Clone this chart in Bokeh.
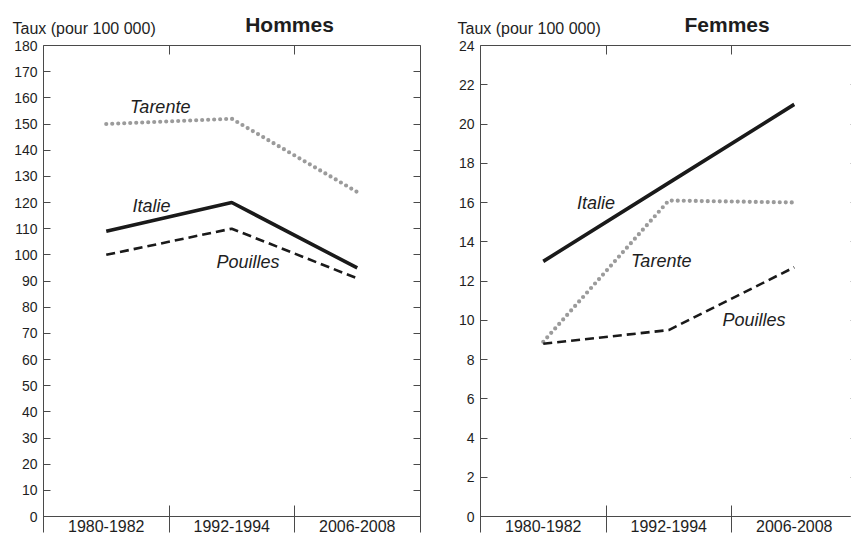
from bokeh.plotting import figure
from bokeh.layouts import row
from bokeh.models import Range1d, FixedTicker, LinearAxis, Label
from bokeh.embed import file_html
from bokeh.resources import INLINE

# ---------------- data ----------------
periods = ["1980-1982", "1992-1994", "2006-2008"]

hommes_tarente = [150, 152, 124]
hommes_italie = [109, 120, 95]
hommes_pouilles = [100, 110, 91]

femmes_italie = [13, 17, 21]
femmes_tarente = [8.9, 16.1, 16.0]
femmes_pouilles = [8.8, 9.5, 12.7]

hommes_yticks = list(range(0, 181, 10))
femmes_yticks = list(range(0, 25, 2))

y_title = "Taux (pour 100 000)"
# label anchors (x in category units, y in value units)
hommes_label_pos = {"Tarente": (0.93, 156.5), "Italie": (0.86, 118.8), "Pouilles": (1.63, 97.1)}
femmes_label_pos = {"Italie": (0.92, 15.95), "Tarente": (1.44, 13.04), "Pouilles": (2.18, 10.0)}

# ---------------- layout / style ----------------
FONT = "Liberation Sans"
AX = "#4a4a4a"
TXT = "#1e1e1e"
H = 535            # figure height (px)
Y_TOP_PX = 45      # canvas y of the top of the value axis
Y_ZERO_PX = 516    # canvas y of value 0
PX_PER_CAT = 125.5
TITLE_PX = 23.5    # canvas y (centre) of the panel titles
TAUX_PX = 28       # canvas y (centre) of the axis title

styles = {
    "Tarente": dict(line_color="#9b9b9b", line_width=4.2, line_dash="0 6", line_cap="round"),
    "Italie": dict(line_color="#1a1a1a", line_width=3.6),
    "Pouilles": dict(line_color="#1a1a1a", line_width=2.6, line_dash="9 5"),
}

n = len(periods)
centers = [i + 0.5 for i in range(n)]
bounds = list(range(n + 1))


def panel(title, ymax, yticks, series, label_pos, width, axis_left_px,
          right_tick_color, title_x, taux_x_px):
    ppu = (Y_ZERO_PX - Y_TOP_PX) / ymax
    y0 = -(H - Y_ZERO_PX) / ppu
    y1 = ymax + Y_TOP_PX / ppu
    x0 = -axis_left_px / PX_PER_CAT
    x1 = (width - axis_left_px) / PX_PER_CAT

    def ydata(px):
        return ymax + (Y_TOP_PX - px) / ppu

    p = figure(width=width, height=H, x_range=Range1d(x0, x1), y_range=Range1d(y0, y1),
               output_backend="svg", toolbar_location=None,
               x_axis_location=None, y_axis_location=None,
               min_border=0, min_border_left=0, min_border_right=0,
               min_border_top=0, min_border_bottom=0,
               outline_line_color=None, background_fill_color="white",
               border_fill_color="white")
    p.title.visible = False
    p.grid.grid_line_color = None

    common = dict(minor_tick_line_color=None, major_tick_out=0)

    left = LinearAxis(ticker=FixedTicker(ticks=yticks, minor_ticks=[]),
                      fixed_location=0, bounds=(0, ymax),
                      major_tick_in=7, major_label_standoff=6,
                      axis_line_color=AX, major_tick_line_color=AX,
                      major_label_text_font=FONT, major_label_text_font_size="14px",
                      major_label_text_color=TXT, **common)
    p.add_layout(left, "left")

    right = LinearAxis(ticker=FixedTicker(ticks=yticks, minor_ticks=[]),
                       fixed_location=n, bounds=(0, ymax),
                       major_tick_in=7, major_label_text_color=None,
                       axis_line_color=AX, major_tick_line_color=right_tick_color, **common)
    p.add_layout(right, "right")

    top = LinearAxis(ticker=FixedTicker(ticks=bounds[1:-1], minor_ticks=[]),
                     fixed_location=ymax, bounds=(0, n),
                     major_tick_in=9, major_label_text_color=None,
                     axis_line_color=AX, major_tick_line_color=AX, **common)
    p.add_layout(top, "above")

    dividers = LinearAxis(ticker=FixedTicker(ticks=bounds, minor_ticks=[]),
                          fixed_location=0, bounds=(0, n),
                          major_tick_in=11, major_tick_out=16,
                          major_label_text_color=None, minor_tick_line_color=None,
                          axis_line_color=AX, major_tick_line_color=AX)
    p.add_layout(dividers, "below")

    cats = LinearAxis(ticker=FixedTicker(ticks=centers, minor_ticks=[]),
                      fixed_location=0, bounds=(0, n),
                      major_tick_in=0, major_tick_line_color=None, axis_line_color=None,
                      major_label_overrides={c: lab for c, lab in zip(centers, periods)},
                      major_label_standoff=3,
                      major_label_text_font=FONT, major_label_text_font_size="16px",
                      major_label_text_color=TXT, **common)
    p.add_layout(cats, "below")

    for name, vals in series:
        p.line(centers, vals, **styles[name])
        lx, ly = label_pos[name]
        p.add_layout(Label(x=lx, y=ly, text=name, text_font=FONT, text_font_size="18px",
                           text_font_style="italic", text_color=TXT,
                           text_align="center", text_baseline="middle"))

    p.add_layout(Label(x=title_x, y=ydata(TITLE_PX), text=title, text_font=FONT,
                       text_font_size="21px", text_font_style="bold", text_color=TXT,
                       text_align="center", text_baseline="middle"))
    p.add_layout(Label(x=(taux_x_px - axis_left_px) / PX_PER_CAT, y=ydata(TAUX_PX),
                       text=y_title, text_font=FONT,
                       text_font_size="16px", text_color=TXT,
                       text_align="left", text_baseline="middle"))
    return p


p1 = panel("Hommes", 180, hommes_yticks,
           [("Tarente", hommes_tarente), ("Italie", hommes_italie), ("Pouilles", hommes_pouilles)],
           hommes_label_pos, width=425, axis_left_px=43,
           right_tick_color=AX, title_x=1.96, taux_x_px=12)
p2 = panel("Femmes", 24, femmes_yticks,
           [("Italie", femmes_italie), ("Tarente", femmes_tarente), ("Pouilles", femmes_pouilles)],
           femmes_label_pos, width=426, axis_left_px=55,
           right_tick_color="#9a9a9a", title_x=1.965, taux_x_px=32)

layout = row(p1, p2)
open("out.html", "w").write(file_html(layout, INLINE))
